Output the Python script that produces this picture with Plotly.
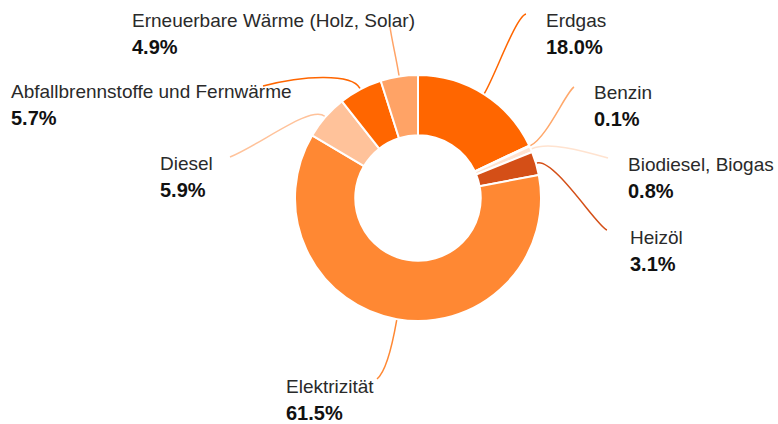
import math
import plotly.graph_objects as go

# Endenergieverbrauch nach Energieträger (Anteile in %)
labels = ["Erdgas", "Benzin", "Biodiesel, Biogas", "Heizöl", "Elektrizität",
          "Diesel", "Abfallbrennstoffe und Fernwärme", "Erneuerbare Wärme (Holz, Solar)"]
values = [18.0, 0.1, 0.8, 3.1, 61.5, 5.9, 5.7, 4.9]
colors = ["#ff6600", "#ffa86b", "#ffe3d0", "#d44f17", "#ff8833",
          "#ffc29a", "#ff6600", "#ffa366"]

# label placement (pixels from top-left) and where the leader line ends
label_pos = [(544, 20), (592, 92), (626, 164), (628, 237),
             (284, 386), (158, 163), (9, 91), (130, 20)]
line_end = [(526, 14), (574, 87), (608, 158), (607, 230),
            (377, 379), (230, 157), (263, 86), (390, 27)]
line_ctrl = [(-10, 2), (-8, 5), (-28, -8), (-9, -2),
             (10, -8), (30, -12), (38, -10), (2, 14)]

W, H = 778, 424
cx, cy, r = 418, 198, 123

fig = go.Figure()
fig.add_trace(go.Pie(
    labels=labels, values=values, sort=False, direction="clockwise", rotation=0,
    hole=0.51, textinfo="none", hoverinfo="label+percent",
    marker=dict(colors=colors, line=dict(color="white", width=2)),
    domain=dict(x=[(cx - r) / W, (cx + r) / W], y=[(H - cy - r) / H, (H - cy + r) / H]),
    showlegend=False,
))

total = sum(values)
cum = 0
for i, v in enumerate(values):
    ang = math.radians((cum + v / 2) / total * 360)
    cum += v
    ux, uy = math.sin(ang), -math.cos(ang)
    sx, sy = cx + (r + 1) * ux, cy + (r + 1) * uy
    c1 = (sx + 18 * ux, sy + 18 * uy)
    ex, ey = line_end[i]
    c2 = (ex + line_ctrl[i][0], ey + line_ctrl[i][1])
    fig.add_shape(type="path", xref="x", yref="y",
                  path=f"M {sx:.1f},{sy:.1f} C {c1[0]:.1f},{c1[1]:.1f} {c2[0]:.1f},{c2[1]:.1f} {ex},{ey}",
                  line=dict(color=colors[i], width=1.5))
    lx, ly = label_pos[i]
    fig.add_annotation(x=lx, y=ly, text=labels[i], showarrow=False, xanchor="left",
                       yanchor="middle", font=dict(size=19, color="#2a2a2a"))
    fig.add_annotation(x=lx, y=ly + 27, text=f"<b>{v:.1f}%</b>", showarrow=False,
                       xanchor="left", yanchor="middle", font=dict(size=20, color="#111111"))

fig.update_layout(
    width=W, height=H, margin=dict(l=0, r=0, t=0, b=0),
    paper_bgcolor="white", plot_bgcolor="white",
    font=dict(family="Liberation Sans, Arial, sans-serif"),
    xaxis=dict(range=[0, W], visible=False, fixedrange=True),
    yaxis=dict(range=[H, 0], visible=False, fixedrange=True),
)

fig.write_html("out.html", config={"displayModeBar": False},
               post_script="document.body.style.margin='0';document.body.style.overflow='hidden';")
